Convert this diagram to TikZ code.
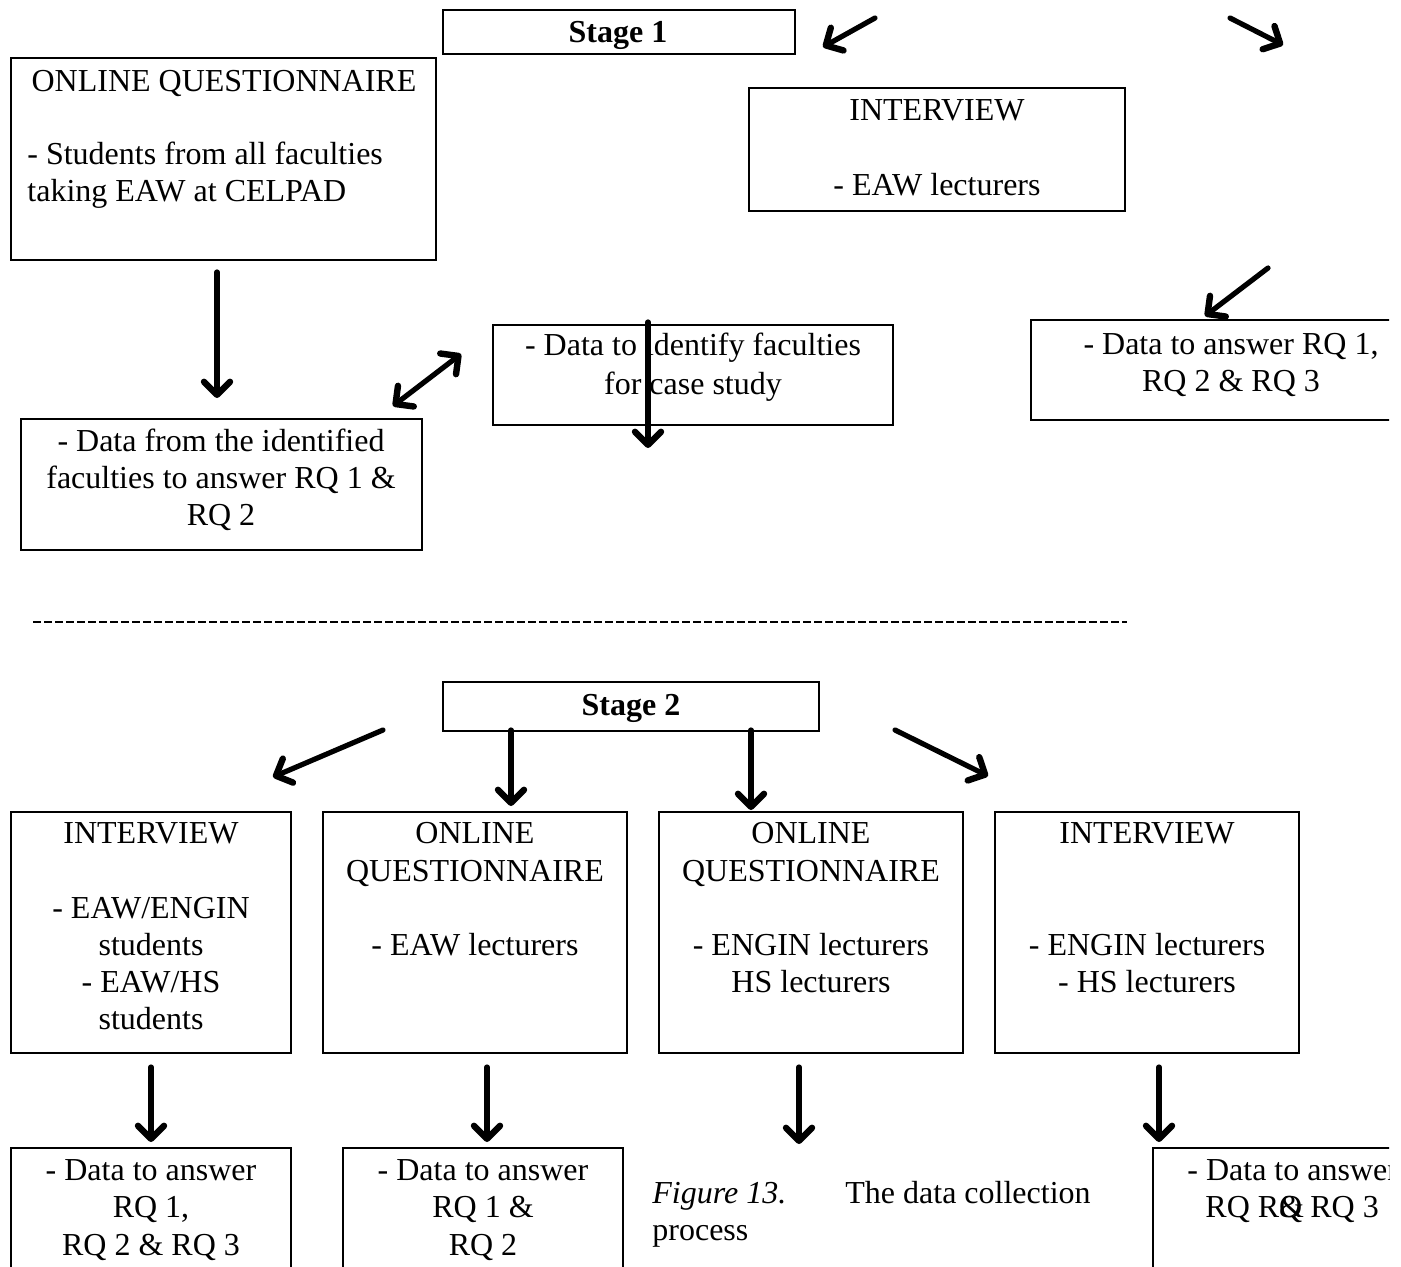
\documentclass[tikz,border=0pt]{standalone}
\usepackage{fontspec}
\setmainfont{Liberation Serif}
\usetikzlibrary{arrows.meta}
\tikzset{
  box/.style={draw=black, line width=0.7pt, fill=none, inner sep=0pt},
  txt/.style={inner sep=0pt, anchor=base, font=\fontsize{16pt}{18.5pt}\selectfont},
  txtl/.style={txt, anchor=base west},
  tip/.tip={Straight Barb[length=6.5pt,width=13pt,line width=3.2pt,round]},
  arr/.style={line width=2.6pt, line cap=round, -tip},
  darr/.style={arr, tip-tip},
  sep/.style={line width=1.3pt, dash pattern=on 4pt off 1.5pt}
}
\begin{document}
\begin{tikzpicture}[x=0.5pt,y=-0.5pt]
\useasboundingbox (0,0) rectangle (1401,1267);
\begin{scope}
\clip (0,0) rectangle (1389,1267);
% ---------------- Stage 1 ----------------
\node[box, minimum width=176pt, minimum height=22pt] (stage1) at (619,32) {};
\node[txt, font=\fontsize{16pt}{18.5pt}\selectfont\bfseries] (stage1t) at (618,43) {Stage 1};

\node[box, minimum width=212.5pt, minimum height=101pt] (oq1) at (223.5,159) {};
\node[txt] (oq1a) at (224,92) {ONLINE QUESTIONNAIRE};
\node[txtl] (oq1b) at (27,165) {- Students from all faculties};
\node[txtl] (oq1c) at (27,202) {taking EAW at CELPAD};

\node[box, minimum width=188pt, minimum height=61.5pt] (int1) at (937,149.5) {};
\node[txt] (int1a) at (937,121) {INTERVIEW};
\node[txt] (int1b) at (937,196) {- EAW lecturers};

\node[box, minimum width=200.5pt, minimum height=65.5pt] (d1) at (221.5,484.5) {};
\node[txt] (d1a) at (221,451) {- Data from the identified};
\node[txt] (d1b) at (221,488) {faculties to answer RQ 1 \&};
\node[txt] (d1c) at (221,525) {RQ 2};

\node[box, minimum width=200pt, minimum height=50pt] (d2) at (693,375) {};
\node[txt] (d2a) at (693,356) {- Data to identify faculties};
\node[txt] (d2b) at (693,394) {for case study};

\node[box, minimum width=200pt, minimum height=50pt] (d3) at (1231,370) {};
\node[txt] (d3a) at (1231,354) {- Data to answer RQ 1,};
\node[txt] (d3b) at (1231,391) {RQ 2 \& RQ 3};

% arrows stage 1
\coordinate (a1s) at (875,18);  \coordinate (a1e) at (823,47);
\coordinate (a2s) at (1230,18); \coordinate (a2e) at (1283,45);
\coordinate (a3s) at (217,272); \coordinate (a3e) at (217,398);
\coordinate (a4s) at (393,406); \coordinate (a4e) at (461,354);
\coordinate (a5s) at (648,322); \coordinate (a5e) at (648,448);
\coordinate (a6s) at (1268,268);\coordinate (a6e) at (1205,316);
\draw[arr] (a1s) -- (a1e);
\draw[arr] (a2s) -- (a2e);
\draw[arr] (a3s) -- (a3e);
\draw[darr] (a4s) -- (a4e);
\draw[arr] (a5s) -- (a5e);
\draw[arr] (a6s) -- (a6e);

% separator
\coordinate (sepL) at (33,622);
\coordinate (sepR) at (1127,622);
\draw[sep] (sepL) -- (sepR);

% ---------------- Stage 2 ----------------
\node[box, minimum width=188pt, minimum height=24.5pt] (stage2) at (631,706.5) {};
\node[txt, font=\fontsize{16pt}{18.5pt}\selectfont\bfseries] (stage2t) at (631,715) {Stage 2};

\node[box, minimum width=140pt, minimum height=120.5pt] (bA) at (151,932.5) {};
\node[txt] (bA1) at (151,843) {INTERVIEW};
\node[txt] (bA2) at (151,918) {- EAW/ENGIN};
\node[txt] (bA3) at (151,955) {students};
\node[txt] (bA4) at (151,992) {- EAW/HS};
\node[txt] (bA5) at (151,1029) {students};

\node[box, minimum width=152pt, minimum height=120.5pt] (bB) at (475,932.5) {};
\node[txt] (bB1) at (475,843) {ONLINE};
\node[txt] (bB2) at (475,881) {QUESTIONNAIRE};
\node[txt] (bB3) at (475,955) {- EAW lecturers};

\node[box, minimum width=152pt, minimum height=120.5pt] (bC) at (811,932.5) {};
\node[txt] (bC1) at (811,843) {ONLINE};
\node[txt] (bC2) at (811,881) {QUESTIONNAIRE};
\node[txt] (bC3) at (811,955) {- ENGIN lecturers};
\node[txt] (bC4) at (811,992) {HS lecturers};

\node[box, minimum width=152pt, minimum height=120.5pt] (bD) at (1147,932.5) {};
\node[txt] (bD1) at (1147,843) {INTERVIEW};
\node[txt] (bD2) at (1147,955) {- ENGIN lecturers};
\node[txt] (bD3) at (1147,992) {- HS lecturers};

\node[box, minimum width=140pt, minimum height=76pt] (bE) at (151,1224) {};
\node[txt] (bE1) at (151,1180) {- Data to answer};
\node[txt] (bE2) at (151,1217) {RQ 1,};
\node[txt] (bE3) at (151,1255) {RQ 2 \& RQ 3};

\node[box, minimum width=140pt, minimum height=76pt] (bF) at (483,1224) {};
\node[txt] (bF1) at (483,1180) {- Data to answer};
\node[txt] (bF2) at (483,1217) {RQ 1 \&};
\node[txt] (bF3) at (483,1255) {RQ 2};

\node[box, minimum width=140pt, minimum height=76pt] (bG) at (1293,1224) {};
\node[txtl] (bG1) at (1187,1180) {- Data to answer};
\node[txtl] (bG2) at (1205,1217) {RQ R\rlap{\&}Q RQ 3};

\node[txtl, font=\fontsize{16pt}{18.5pt}\selectfont\itshape] (cap1) at (652,1203) {Figure 13.};
\node[txtl] (cap2) at (845,1203) {The data collection};
\node[txtl] (cap3) at (652,1240) {process};

% arrows stage 2
\coordinate (b1s) at (383,730);  \coordinate (b1e) at (273,777);
\coordinate (b2s) at (511,730);  \coordinate (b2e) at (511,806);
\coordinate (b3s) at (751,730);  \coordinate (b3e) at (751,810);
\coordinate (b4s) at (895,730);  \coordinate (b4e) at (988,776);
\coordinate (c1s) at (151,1067); \coordinate (c1e) at (151,1142);
\coordinate (c2s) at (487,1067); \coordinate (c2e) at (487,1142);
\coordinate (c3s) at (799,1067); \coordinate (c3e) at (799,1144);
\coordinate (c4s) at (1159,1067);\coordinate (c4e) at (1159,1142);
\draw[arr] (b1s) -- (b1e);
\draw[arr] (b2s) -- (b2e);
\draw[arr] (b3s) -- (b3e);
\draw[arr] (b4s) -- (b4e);
\draw[arr] (c1s) -- (c1e);
\draw[arr] (c2s) -- (c2e);
\draw[arr] (c3s) -- (c3e);
\draw[arr] (c4s) -- (c4e);
\end{scope}
\end{tikzpicture}
\end{document}
